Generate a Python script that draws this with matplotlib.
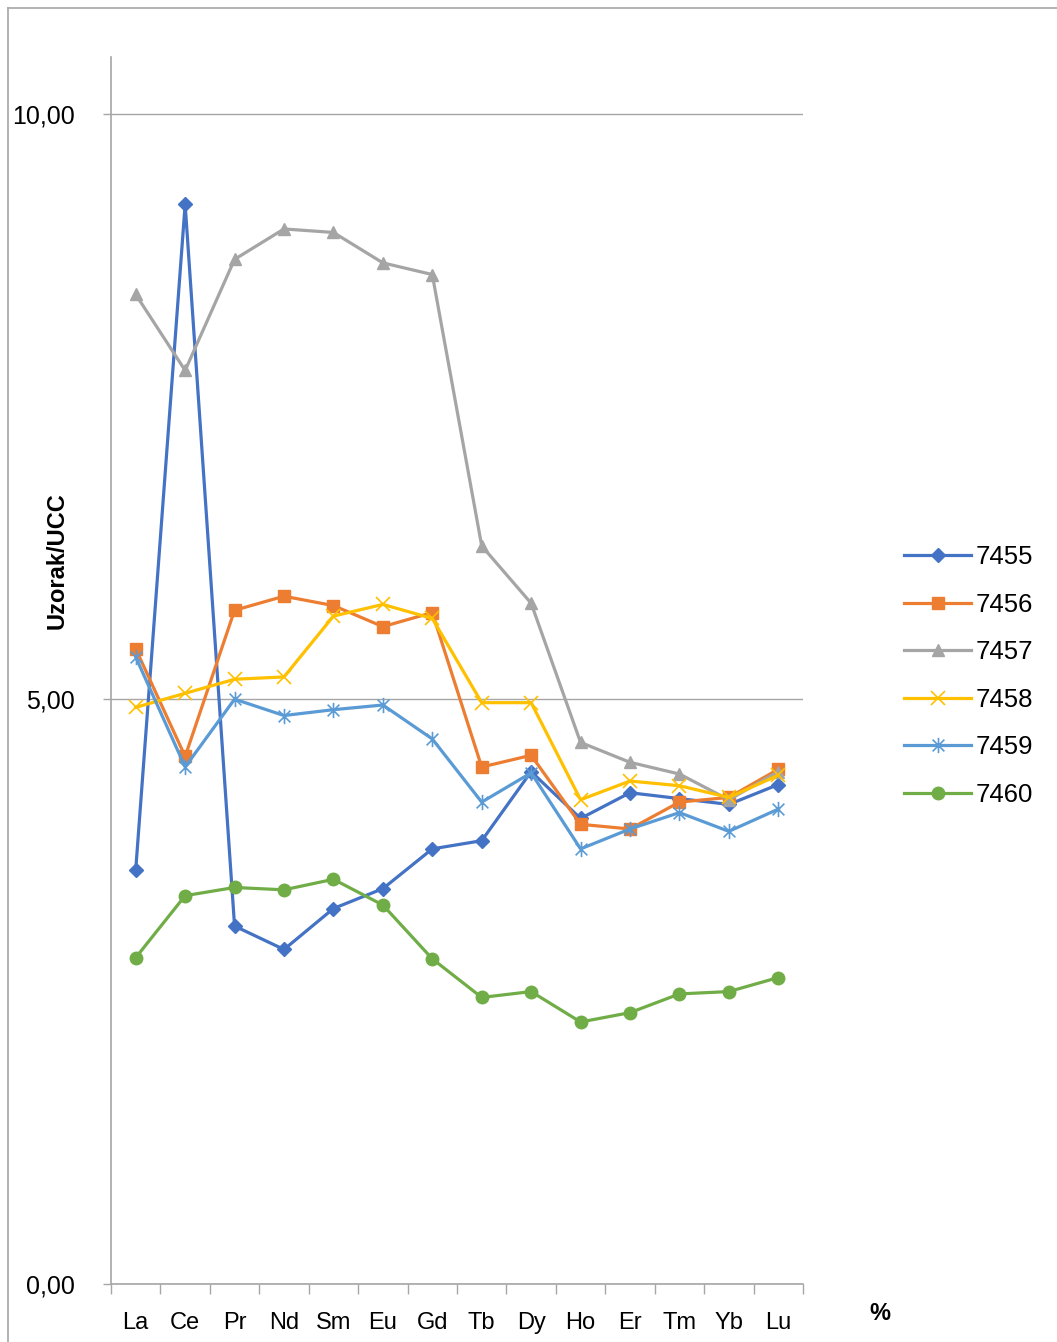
#!/usr/bin/env python3
"""REE pattern of samples normalised to UCC (Uzorak/UCC)."""

import matplotlib

matplotlib.use("Agg")
import matplotlib.pyplot as plt
from matplotlib.lines import Line2D
from matplotlib.path import Path
from matplotlib.ticker import FuncFormatter

plt.rcParams["font.family"] = ["Liberation Sans", "DejaVu Sans"]

elements = ["La", "Ce", "Pr", "Nd", "Sm", "Eu", "Gd", "Tb", "Dy", "Ho", "Er", "Tm", "Yb", "Lu"]

s7455 = [3.54, 9.23, 3.06, 2.86, 3.21, 3.38, 3.72, 3.79, 4.38, 3.98, 4.20, 4.15, 4.10, 4.27]
s7456 = [5.43, 4.51, 5.76, 5.88, 5.80, 5.62, 5.74, 4.42, 4.52, 3.93, 3.89, 4.12, 4.16, 4.40]
s7457 = [8.46, 7.81, 8.76, 9.02, 8.99, 8.73, 8.63, 6.31, 5.82, 4.63, 4.46, 4.36, 4.14, 4.38]
s7458 = [4.93, 5.05, 5.17, 5.19, 5.71, 5.81, 5.69, 4.97, 4.97, 4.14, 4.30, 4.26, 4.16, 4.35]
s7459 = [5.36, 4.42, 5.00, 4.86, 4.91, 4.95, 4.66, 4.12, 4.37, 3.72, 3.89, 4.03, 3.87, 4.06]
s7460 = [2.79, 3.32, 3.39, 3.37, 3.46, 3.24, 2.78, 2.45, 2.50, 2.24, 2.32, 2.48, 2.50, 2.62]

series_names = ["7455", "7456", "7457", "7458", "7459", "7460"]
colors = ["#4472C4", "#ED7D31", "#A5A5A5", "#FFC000", "#5B9BD5", "#70AD47"]

# Excel-style "star" marker: an x with a vertical stroke through it
M, L = Path.MOVETO, Path.LINETO
star = Path([(-1, -1), (1, 1), (-1, 1), (1, -1), (0, -1.3), (0, 1.3)],
            [M, L, M, L, M, L])

W, H = 1057, 1342
fig = plt.figure(figsize=(W / 100, H / 100), dpi=100)
ax = fig.add_axes([111 / W, 1 - 1284 / H, (803 - 111) / W, (1284 - 57) / H])

x = list(range(len(elements)))
lw = 2.3
handles = []

h, = ax.plot(x, s7455, color=colors[0], lw=lw, marker="D", ms=7, zorder=3)
handles.append(h)
h, = ax.plot(x, s7456, color=colors[1], lw=lw, marker="s", ms=9, zorder=3)
handles.append(h)
h, = ax.plot(x, s7457, color=colors[2], lw=lw, marker="^", ms=9, zorder=3)
handles.append(h)
h, = ax.plot(x, s7458, color=colors[3], lw=lw, marker="x", ms=10, mew=1.2, zorder=3)
handles.append(h)
h, = ax.plot(x, s7459, color=colors[4], lw=lw, marker=star, ms=11, mew=1.2, zorder=3)
handles.append(h)
h, = ax.plot(x, s7460, color=colors[5], lw=lw, marker="o", ms=9, zorder=3)
handles.append(h)

ax.set_xlim(-0.5, len(elements) - 0.5)
ax.set_ylim(0, 10.49)
ax.set_yticks([0, 5, 10])
ax.yaxis.set_major_formatter(FuncFormatter(lambda v, p: f"{v:.2f}".replace(".", ",")))
ax.grid(axis="y", color="#A6A6A6", lw=1.0)
ax.set_axisbelow(True)

ax.set_xticks(x)
ax.set_xticklabels(elements)
ax.set_xticks([i - 0.5 for i in range(len(elements) + 1)], minor=True)
ax.tick_params(axis="x", which="major", length=0, pad=20, labelsize=17)
ax.tick_params(axis="x", which="minor", length=7, color="#A6A6A6", width=1)
ax.tick_params(axis="y", length=6, color="#A6A6A6", width=1, pad=20, labelsize=18)

for side in ["top", "right"]:
    ax.spines[side].set_visible(False)
for side in ["left", "bottom"]:
    ax.spines[side].set_color("#A6A6A6")
    ax.spines[side].set_linewidth(1.2)

fig.text(57 / W, 1 - 561 / H, "Uzorak/UCC", fontsize=17, fontweight="bold",
         rotation=90, ha="center", va="center")
fig.text(880 / W, 1 - 1313 / H, "%", fontsize=17, fontweight="bold", ha="center", va="center")

fig.legend(handles, series_names, loc="center left",
           bbox_to_anchor=(881 / W, 1 - 676 / H), frameon=False,
           fontsize=18.5, handlelength=2.6, handletextpad=0.2, labelspacing=0.92)

# outer chart frame
fig.add_artist(Line2D([8 / W, 1.0], [1 - 8 / H, 1 - 8 / H], color="#A6A6A6", lw=1.2))
fig.add_artist(Line2D([8 / W, 8 / W], [0, 1 - 8 / H], color="#A6A6A6", lw=1.2))

fig.savefig("out.png", dpi=100)
